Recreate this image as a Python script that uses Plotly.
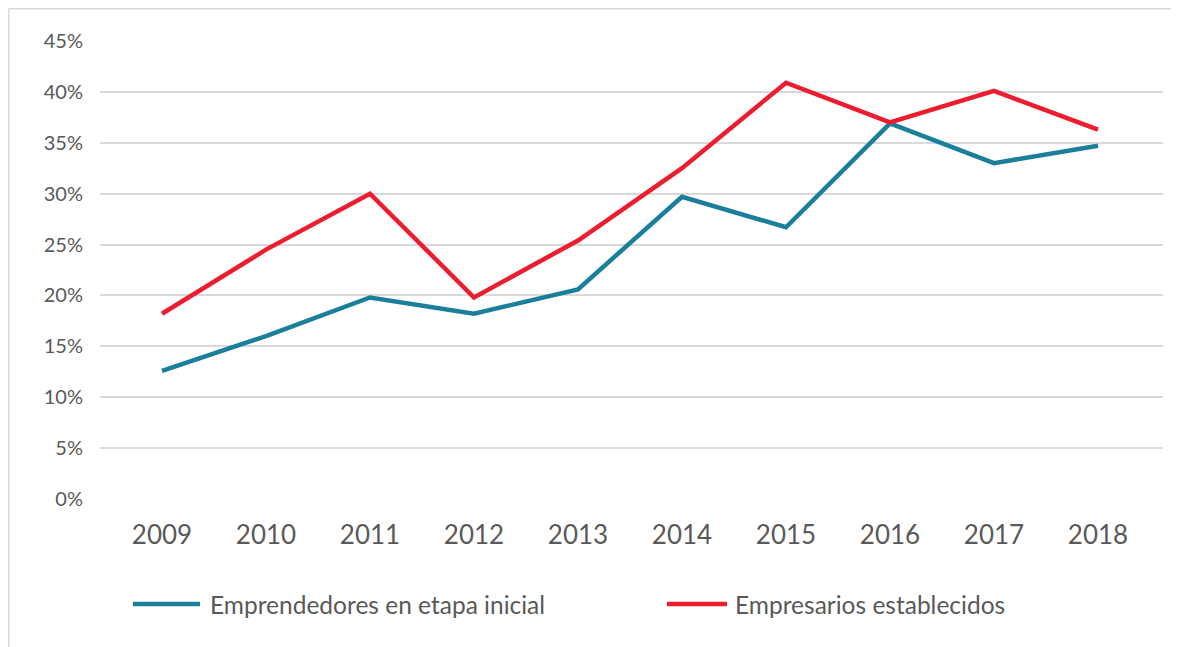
import plotly.graph_objects as go

years = ["2009", "2010", "2011", "2012", "2013", "2014", "2015", "2016", "2017", "2018"]
emprendedores = [12.6, 16.0, 19.8, 18.2, 20.6, 29.7, 26.7, 36.9, 33.0, 34.7]
empresarios = [18.2, 24.5, 30.0, 19.8, 25.4, 32.5, 40.9, 37.0, 40.1, 36.3]
series_names = ["Emprendedores en etapa inicial", "Empresarios establecidos"]
colors = ["#1a7f9b", "#ed1c2e"]
y_ticks = [0, 5, 10, 15, 20, 25, 30, 35, 40, 45]

OFF = 8  # page body margin
W, H = 1179 - OFF, 647 - OFF
L, T = 100 - OFF, 41 - OFF
R = (1179 - 1163)
B = 647 - 499
font = "Lato, 'Open Sans', sans-serif"

fig = go.Figure()
xs = list(range(len(years)))
for vals, name, c in [(emprendedores, series_names[0], colors[0]), (empresarios, series_names[1], colors[1])]:
    fig.add_trace(go.Scatter(x=xs, y=vals, mode="lines", name=name,
                             line=dict(color=c, width=4.5), showlegend=False,
                             hovertemplate="%{y:.1f}%<extra>" + name + "</extra>"))

fig.update_layout(
    width=W, height=H,
    margin=dict(l=L, r=R, t=T, b=B),
    paper_bgcolor="white", plot_bgcolor="white",
    font=dict(family=font, color="#595959"),
    xaxis=dict(range=[-0.596, 9.625], tickvals=xs, ticktext=years,
               showgrid=False, zeroline=False, showline=False,
               tickfont=dict(size=26, color="#595959"), ticks="", ticklabelstandoff=18),
    yaxis=dict(range=[0, 45], tickvals=y_ticks, ticktext=[f"{v}%" for v in y_ticks],
               showgrid=True, gridcolor="#d9d9d9", gridwidth=1.5, zeroline=False,
               showline=False, ticks="", tickfont=dict(size=20, color="#595959"),
               ticklabelstandoff=16),
)

def px(x):
    return (x - OFF - L) / (W - L - R)

def py(y):
    return (H - B - (y - OFF)) / (H - T - B)

# outer border (left and top edges)
fig.add_shape(type="line", xref="paper", yref="paper",
              x0=px(8.8), x1=px(8.8), y0=py(700), y1=py(8.8),
              line=dict(color="#d9d9d9", width=1.5), layer="below")
fig.add_shape(type="line", xref="paper", yref="paper",
              x0=px(8.8), x1=px(1200), y0=py(8.8), y1=py(8.8),
              line=dict(color="#d9d9d9", width=1.5), layer="below")

# manual legend
leg_y = 604
items = [(133, 200, 208), (667, 727, 733)]
for (x0, x1, tx), name, c in zip(items, series_names, colors):
    fig.add_shape(type="line", xref="paper", yref="paper",
                  x0=px(x0), x1=px(x1), y0=py(leg_y), y1=py(leg_y),
                  line=dict(color=c, width=4.5))
    fig.add_annotation(xref="paper", yref="paper", x=px(tx), y=py(leg_y),
                       text=name, showarrow=False, xanchor="left", yanchor="middle",
                       font=dict(size=24.5, color="#595959", family=font))

fig.write_html("out.html")
